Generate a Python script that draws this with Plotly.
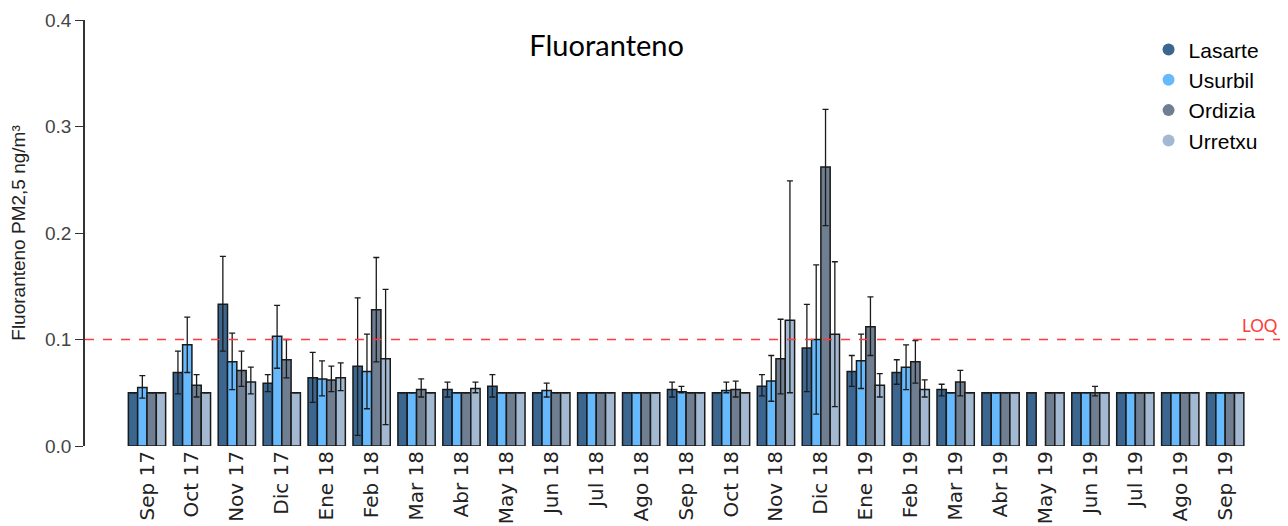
import plotly.graph_objects as go

months = ["Sep 17", "Oct 17", "Nov 17", "Dic 17", "Ene 18", "Feb 18", "Mar 18", "Abr 18",
          "May 18", "Jun 18", "Jul 18", "Ago 18", "Sep 18", "Oct 18", "Nov 18", "Dic 18",
          "Ene 19", "Feb 19", "Mar 19", "Abr 19", "May 19", "Jun 19", "Jul 19", "Ago 19", "Sep 19"]

lasarte = [0.05, 0.069, 0.133, 0.059, 0.064, 0.075, 0.05, 0.053, 0.056, 0.05, 0.05, 0.05, 0.053,
           0.05, 0.056, 0.092, 0.070, 0.069, 0.053, 0.05, 0.05, 0.05, 0.05, 0.05, 0.05]
lasarte_max = [0.05, 0.089, 0.178, 0.067, 0.088, 0.139, 0.05, 0.060, 0.067, 0.05, 0.05, 0.05, 0.060,
               0.05, 0.067, 0.133, 0.085, 0.081, 0.058, 0.05, 0.05, 0.05, 0.05, 0.05, 0.05]
lasarte_min = [0.05, 0.049, 0.089, 0.051, 0.041, 0.010, 0.05, 0.046, 0.046, 0.05, 0.05, 0.05, 0.046,
               0.05, 0.047, 0.051, 0.056, 0.058, 0.047, 0.05, 0.05, 0.05, 0.05, 0.05, 0.05]

usurbil = [0.055, 0.095, 0.079, 0.103, 0.063, 0.070, 0.05, 0.05, 0.05, 0.052, 0.05, 0.05, 0.051,
           0.052, 0.061, 0.100, 0.080, 0.074, 0.05, 0.05, None, 0.05, 0.05, 0.05, 0.05]
usurbil_max = [0.066, 0.121, 0.106, 0.132, 0.080, 0.105, 0.05, 0.05, 0.05, 0.059, 0.05, 0.05, 0.056,
               0.060, 0.085, 0.170, 0.105, 0.095, 0.05, 0.05, None, 0.05, 0.05, 0.05, 0.05]
usurbil_min = [0.045, 0.069, 0.053, 0.073, 0.047, 0.035, 0.05, 0.05, 0.05, 0.046, 0.05, 0.05, 0.050,
               0.050, 0.042, 0.030, 0.054, 0.053, 0.05, 0.05, None, 0.05, 0.05, 0.05, 0.05]

ordizia = [0.05, 0.057, 0.071, 0.081, 0.062, 0.128, 0.053, 0.05, 0.05, 0.05, 0.05, 0.05, 0.05,
           0.053, 0.082, 0.262, 0.112, 0.079, 0.060, 0.05, 0.05, 0.05, 0.05, 0.05, 0.05]
ordizia_max = [0.05, 0.067, 0.089, 0.100, 0.075, 0.177, 0.063, 0.05, 0.05, 0.05, 0.05, 0.05, 0.05,
               0.061, 0.119, 0.316, 0.140, 0.099, 0.071, 0.05, 0.05, 0.056, 0.05, 0.05, 0.05]
ordizia_min = [0.05, 0.046, 0.056, 0.064, 0.051, 0.079, 0.046, 0.05, 0.05, 0.05, 0.05, 0.05, 0.05,
               0.046, 0.049, 0.207, 0.085, 0.059, 0.047, 0.05, 0.05, 0.047, 0.05, 0.05, 0.05]

urretxu = [0.05, 0.05, 0.060, 0.05, 0.064, 0.082, 0.05, 0.054, 0.05, 0.05, 0.05, 0.05, 0.05,
           0.05, 0.118, 0.105, 0.057, 0.053, 0.05, 0.05, 0.05, 0.05, 0.05, 0.05, 0.05]
urretxu_max = [0.05, 0.05, 0.074, 0.05, 0.078, 0.147, 0.05, 0.060, 0.05, 0.05, 0.05, 0.05, 0.05,
               0.05, 0.249, 0.173, 0.068, 0.062, 0.05, 0.05, 0.05, 0.05, 0.05, 0.05, 0.05]
urretxu_min = [0.05, 0.05, 0.049, 0.05, 0.052, 0.020, 0.05, 0.050, 0.05, 0.05, 0.05, 0.05, 0.05,
               0.05, 0.05, 0.037, 0.046, 0.046, 0.05, 0.05, 0.05, 0.05, 0.05, 0.05, 0.05]

stations = ["Lasarte", "Usurbil", "Ordizia", "Urretxu"]
colors = ["#3a6690", "#66b9fd", "#6f7e90", "#a3b9d2"]
LOQ = 0.1

series = [(lasarte, lasarte_max, lasarte_min), (usurbil, usurbil_max, usurbil_min),
          (ordizia, ordizia_max, ordizia_min), (urretxu, urretxu_max, urretxu_min)]


def diff(a, b):
    return [None if (x is None or y is None) else round(x - y, 4) for x, y in zip(a, b)]


fig = go.Figure()
for name, col, (vals, vmax, vmin) in zip(stations, colors, series):
    fig.add_trace(go.Bar(
        x=months, y=vals, name=name, showlegend=False,
        marker=dict(color=col, line=dict(color="#1a1a1a", width=1.5)),
        error_y=dict(type="data", symmetric=False, array=diff(vmax, vals),
                     arrayminus=diff(vals, vmin), color="#1a1a1a", thickness=1.3, width=3),
    ))
for name, col in zip(stations, colors):
    fig.add_trace(go.Scatter(x=[None], y=[None], mode="markers", name=name,
                             marker=dict(color=col, size=11, symbol="circle")))

fig.add_shape(type="line", xref="paper", yref="y", x0=0, x1=1, y0=LOQ, y1=LOQ,
              line=dict(color="#ff3b3b", width=1.5, dash="dash"))
fig.add_annotation(xref="paper", yref="y", x=1.0, y=LOQ, text="LOQ", showarrow=False,
                   xanchor="right", yanchor="bottom", yshift=2,
                   font=dict(family="Lato", size=17, color="#ff3b3b"))

fig.update_layout(
    width=1288, height=526,
    margin=dict(l=85, r=8, t=20, b=80),
    paper_bgcolor="white", plot_bgcolor="white",
    barmode="group", bargap=0.17, bargroupgap=0,
    title=dict(text="Fluoranteno", x=0.471, xanchor="center", y=0.912, yanchor="middle",
               font=dict(family="Lato", size=29, color="black")),
    legend=dict(x=0.890, y=0.978, xanchor="left", yanchor="top",
                font=dict(family="Liberation Sans", size=21, color="black"),
                bgcolor="rgba(0,0,0,0)", tracegroupgap=0, itemsizing="constant"),
    xaxis=dict(range=[-1.38, 25.22], tickangle=-90, showline=False, showgrid=False,
               ticks="", tickfont=dict(family="DejaVu Sans", size=20, color="#222"),
               automargin=False),
    yaxis=dict(range=[0, 0.4], tickvals=[0, 0.1, 0.2, 0.3, 0.4],
               ticktext=["0.0", "0.1", "0.2", "0.3", "0.4"],
               showline=True, linecolor="#333", linewidth=1.5, ticks="outside",
               ticklen=8, tickcolor="#333", showgrid=False, zeroline=False,
               tickfont=dict(family="Liberation Sans", size=19, color="#444"),
               title=dict(text="Fluoranteno PM2,5 ng/m³", standoff=14,
                          font=dict(family="Liberation Sans", size=19, color="#222")),
               automargin=False),
)

fig.write_html("out.html")
